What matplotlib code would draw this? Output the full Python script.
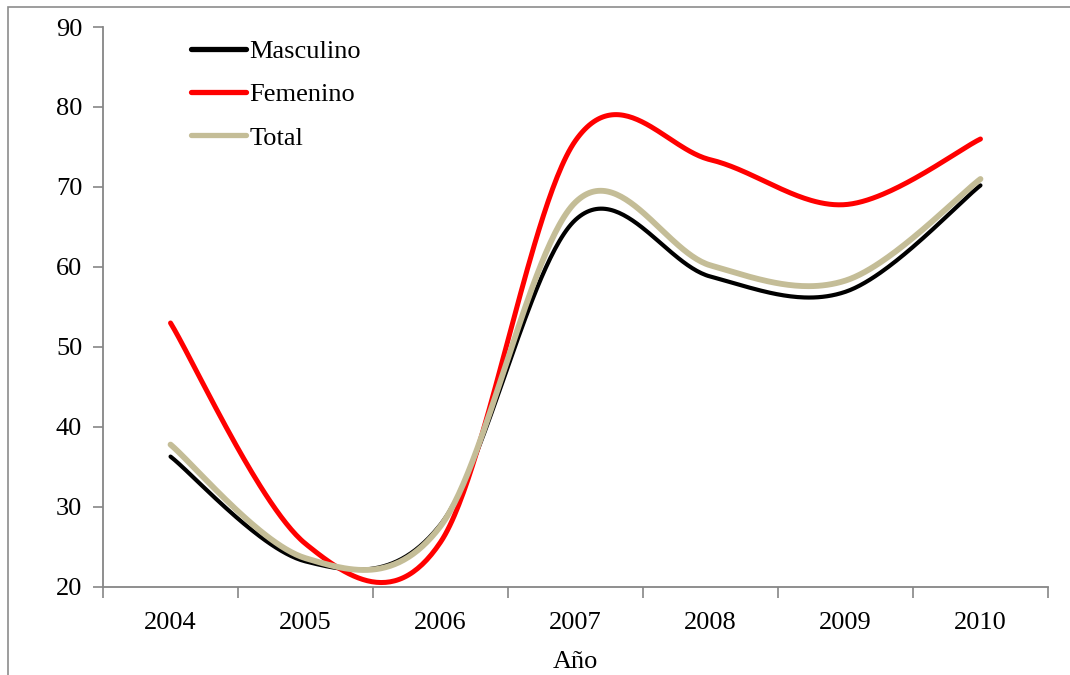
import numpy as np
import matplotlib.pyplot as plt
from matplotlib.patches import Rectangle

years = ['2004', '2005', '2006', '2007', '2008', '2009', '2010']
masculino = [36.3, 23.2, 27.8, 65.9, 58.8, 56.9, 70.2]
femenino = [53.0, 25.4, 25.6, 75.8, 73.4, 67.8, 76.0]
total = [37.8, 23.6, 27.6, 68.1, 60.2, 58.3, 71.0]


def smooth(xs, ys, n=60):
    # Excel-like smoothing: cubic Bezier with Catmull-Rom style control points
    xs = np.asarray(xs, float)
    ys = np.asarray(ys, float)
    px = np.concatenate([[xs[0]], xs, [xs[-1]]])
    py = np.concatenate([[ys[0]], ys, [ys[-1]]])
    out_x, out_y = [], []
    t = np.linspace(0, 1, n)
    for i in range(1, len(xs)):
        p0 = np.array([px[i], py[i]])
        p3 = np.array([px[i + 1], py[i + 1]])
        c1 = p0 + (np.array([px[i + 1], py[i + 1]]) - np.array([px[i - 1], py[i - 1]])) / 6
        c2 = p3 - (np.array([px[i + 2], py[i + 2]]) - np.array([px[i], py[i]])) / 6
        b = ((1 - t) ** 3)[:, None] * p0 + (3 * (1 - t) ** 2 * t)[:, None] * c1 \
            + (3 * (1 - t) * t ** 2)[:, None] * c2 + (t ** 3)[:, None] * p3
        out_x.extend(b[:, 0])
        out_y.extend(b[:, 1])
    return np.array(out_x), np.array(out_y)


plt.rcParams['font.family'] = ['Liberation Serif', 'DejaVu Serif']

fig = plt.figure(figsize=(10.7, 6.75), dpi=100)
ax = fig.add_axes([0.0963, 0.1304, 0.8831, 0.8296])

x = np.arange(1, len(years) + 1)
series = [
    ('Masculino', masculino, 'black', 3.0),
    ('Femenino', femenino, '#FF0000', 3.6),
    ('Total', total, '#C4BD97', 4.2),
]
for name, vals, col, lw in series:
    sx, sy = smooth(x, vals)
    ax.plot(sx, sy, color=col, lw=lw, label=name, solid_capstyle='round')

ax.set_xlim(0.5, len(years) + 0.5)
ax.set_ylim(20, 90)
ax.set_yticks(range(20, 91, 10))
ax.set_xticks(np.arange(0.5, len(years) + 1, 1))
ax.set_xticklabels([])
ax.set_xticks(x, minor=True)
ax.set_xticklabels(years, minor=True)

ax.tick_params(axis='y', direction='out', length=7, width=1.2, color='#868686',
               labelsize=19, pad=8)
ax.tick_params(axis='x', which='major', direction='out', length=8, width=1.2,
               color='#868686')
ax.tick_params(axis='x', which='minor', length=0, labelsize=19, pad=18)

for s in ['top', 'right']:
    ax.spines[s].set_visible(False)
for s in ['left', 'bottom']:
    ax.spines[s].set_color('#868686')
    ax.spines[s].set_linewidth(1.3)

ax.set_xlabel('Año', fontsize=19, labelpad=12)

leg = ax.legend(loc='upper left', bbox_to_anchor=(0.068, 1.02), frameon=False,
                fontsize=19, handlelength=2.1, handletextpad=0.12,
                labelspacing=0.75)
for h in leg.get_lines():
    h.set_linewidth(3.8)

# outer chart frame (partly cut off in the original)
fig.patches.append(Rectangle((8 / 1070, -0.1), 1.2, 1 - 7 / 675 + 0.1,
                             transform=fig.transFigure, fill=False,
                             edgecolor='#8C8C8C', lw=1.2))

fig.savefig('out.png', dpi=100)
